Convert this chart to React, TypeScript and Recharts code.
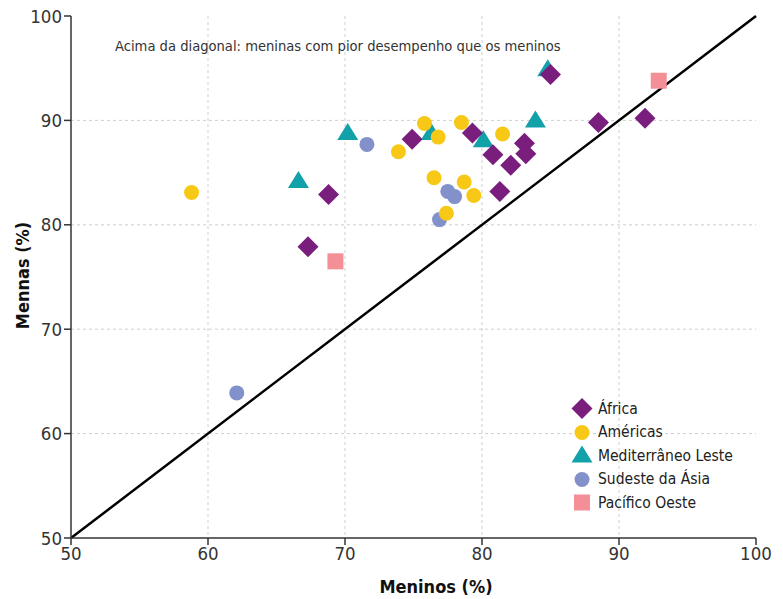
import React from 'react';
import {
	ScatterChart,
	Scatter,
	XAxis,
	YAxis,
	CartesianGrid,
	ReferenceLine,
} from 'recharts';

// [meninos, meninas] per region
const AFRICA: [number, number][] = [
	[85.0, 94.4], [88.5, 89.8], [91.9, 90.2], [79.3, 88.8], [74.9, 88.2], [83.1, 87.8],
	[80.8, 86.7], [83.2, 86.8], [82.1, 85.7], [81.3, 83.2], [68.8, 82.9], [67.3, 77.9],
];
const AMERICAS: [number, number][] = [
	[75.8, 89.7], [78.5, 89.8], [76.8, 88.4], [73.9, 87.0], [81.5, 88.7],
	[76.5, 84.5], [78.7, 84.1], [79.4, 82.8], [77.4, 81.1], [58.8, 83.1],
];
const MEDITERRANEO: [number, number][] = [
	[84.8, 94.9], [83.9, 90.0], [70.2, 88.8], [66.6, 84.2], [76.3, 88.8], [80.1, 88.1],
];
const SUDESTE: [number, number][] = [
	[71.6, 87.7], [77.5, 83.2], [78.0, 82.7], [76.9, 80.5], [62.1, 63.9],
];
const PACIFICO: [number, number][] = [
	[69.3, 76.5], [92.9, 93.8],
];

const TICKS = [50, 60, 70, 80, 90, 100];
const GRID = [60, 70, 80, 90];

const FONT = "'DejaVu Sans Condensed', 'DejaVu Sans', sans-serif";

const COLORS = {
	africa: '#7a1e7e',
	americas: '#f7c815',
	mediterraneo: '#12a1a9',
	sudeste: '#8291ca',
	pacifico: '#f48f97',
};

type Kind = 'diamond' | 'circle' | 'triangle' | 'square';

function Marker({ kind, cx, cy, fill }: { kind: Kind; cx: number; cy: number; fill: string }) {
	if (kind === 'diamond') {
		const r = 10.5;
		return <polygon points={`${cx},${cy - r} ${cx + r},${cy} ${cx},${cy + r} ${cx - r},${cy}`} fill={fill} />;
	}
	if (kind === 'circle') return <circle cx={cx} cy={cy} r={7.5} fill={fill} />;
	if (kind === 'triangle') {
		return <polygon points={`${cx},${cy - 10} ${cx + 10.5},${cy + 7} ${cx - 10.5},${cy + 7}`} fill={fill} />;
	}
	return <rect x={cx - 8} y={cy - 8} width={16} height={16} fill={fill} />;
}

const GROUPS: { name: string; data: [number, number][]; color: string; kind: Kind }[] = [
	{ name: 'África', data: AFRICA, color: COLORS.africa, kind: 'diamond' },
	{ name: 'Américas', data: AMERICAS, color: COLORS.americas, kind: 'circle' },
	{ name: 'Mediterrâneo Leste', data: MEDITERRANEO, color: COLORS.mediterraneo, kind: 'triangle' },
	{ name: 'Sudeste da Ásia', data: SUDESTE, color: COLORS.sudeste, kind: 'circle' },
	{ name: 'Pacífico Oeste', data: PACIFICO, color: COLORS.pacifico, kind: 'square' },
];

// draw order: diamonds end up on top
const DRAW_ORDER = [3, 4, 2, 1, 0];

function LegendBox() {
	return (
		<div style={{ position: 'absolute', left: 569, top: 397, fontFamily: FONT, fontSize: 15.5, color: '#222' }}>
			{GROUPS.map((g) => (
				<div key={g.name} style={{ display: 'flex', alignItems: 'center', height: 23.5 }}>
					<svg width={28} height={23} style={{ marginRight: 1 }}>
						<Marker kind={g.kind} cx={13} cy={11.5} fill={g.color} />
					</svg>
					<span>{g.name}</span>
				</div>
			))}
		</div>
	);
}

const tickStyle = { fontFamily: FONT, fontSize: 18.5, fill: '#333' };

export default function App() {
	return (
		<div style={{ position: 'absolute', left: 0, top: 0, width: 783, height: 599, background: '#fff' }}>
			<ScatterChart width={783} height={599} margin={{ top: 16, right: 27, bottom: 0, left: 0 }}>
				<CartesianGrid
					strokeDasharray="3 3"
					stroke="#cfcfcf"
					verticalValues={GRID}
					horizontalValues={GRID}
				/>
				<XAxis
					type="number"
					dataKey="x"
					domain={[50, 100]}
					ticks={TICKS}
					height={61}
					tickSize={7}
					axisLine={{ stroke: '#333', strokeWidth: 1.5 }}
					tickLine={{ stroke: '#333', strokeWidth: 1.5 }}
					tick={tickStyle}
					interval={0}
				/>
				<YAxis
					type="number"
					dataKey="y"
					domain={[50, 100]}
					ticks={TICKS}
					width={71}
					tickSize={7}
					axisLine={{ stroke: '#333', strokeWidth: 1.5 }}
					tickLine={{ stroke: '#333', strokeWidth: 1.5 }}
					tick={tickStyle}
					interval={0}
				/>
				<ReferenceLine
					segment={[{ x: 50, y: 50 }, { x: 100, y: 100 }]}
					stroke="#000"
					strokeWidth={2.5}
				/>
				{DRAW_ORDER.map((i) => {
					const g = GROUPS[i];
					return (
						<Scatter
							key={g.name}
							name={g.name}
							data={g.data.map(([x, y]) => ({ x, y }))}
							fill={g.color}
							isAnimationActive={false}
							shape={(p: any) => <Marker kind={g.kind} cx={p.cx} cy={p.cy} fill={g.color} />}
						/>
					);
				})}
			</ScatterChart>
			<LegendBox />
			<div style={{ position: 'absolute', left: 115, top: 37, fontFamily: FONT, fontSize: 14.6, color: '#333', whiteSpace: 'nowrap' }}>
				Acima da diagonal: meninas com pior desempenho que os meninos
			</div>
			<div style={{ position: 'absolute', left: 336, width: 200, top: 576, textAlign: 'center', fontFamily: FONT, fontWeight: 'bold', fontSize: 18, color: '#111' }}>
				Meninos (%)
			</div>
			<div
				style={{
					position: 'absolute',
					left: 22,
					top: 277,
					width: 200,
					marginLeft: -100,
					marginTop: -12,
					textAlign: 'center',
					transform: 'rotate(-90deg)',
					fontFamily: FONT,
					fontWeight: 'bold',
					fontSize: 18,
					color: '#111',
				}}
			>
				Mennas (%)
			</div>
		</div>
	);
}
